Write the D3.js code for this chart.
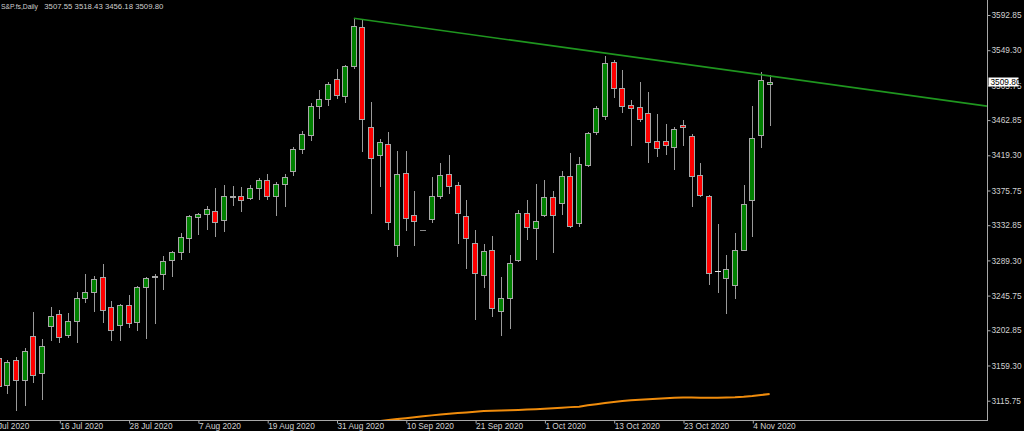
<!DOCTYPE html>
<html><head><meta charset="utf-8">
<script src="https://cdn.jsdelivr.net/npm/d3@7"></script>
<style>html,body{margin:0;padding:0;background:#000;overflow:hidden}</style>
</head><body><svg id="c" width="1024" height="431"></svg>
<script>
// ---------- data ----------
const symbolTitle = "S&P.fs,Daily";
const ohlcTitle = "3507.55 3518.43 3456.18 3509.80";
const firstBar = 1; // bar index of first value below
const opens  = [3169.0,3134.8,3165.8,3141.0,3196.2,3149.7,3207.8,3223.0,3197.4,3214.0,3242.5,3249.9,3268.4,3231.7,3209.4,3234.2,3213.5,3256.1,3270.4,3272.5,3289.5,3299.3,3316.7,3343.6,3346.3,3350.4,3339.7,3368.2,3369.4,3366.5,3379.2,3388.4,3368.6,3384.2,3400.3,3427.5,3444.8,3480.3,3489.0,3513.3,3493.0,3530.1,3578.4,3454.7,3419.3,3433.7,3308.7,3397.1,3345.1,3326.9,3340.9,3369.4,3395.8,3382.2,3344.2,3310.9,3271.3,3302.2,3227.1,3243.2,3289.8,3347.6,3329.0,3345.5,3367.7,3360.0,3393.7,3336.0,3407.0,3447.8,3467.6,3534.4,3502.2,3481.2,3479.1,3471.3,3437.0,3437.0,3429.6,3456.4,3442.8,3394.6,3369.4,3275.8,3267.9,3259.3,3302.2,3364.0,3444.1,3507.55];
const highs  = [3172.3,3166.1,3169.5,3180.6,3225.5,3191.7,3231.7,3227.6,3224.3,3249.9,3272.5,3270.4,3284.5,3238.7,3235.4,3246.5,3257.7,3269.2,3272.5,3294.4,3301.0,3322.8,3345.5,3348.0,3357.0,3379.2,3382.6,3381.7,3380.5,3382.6,3390.9,3396.2,3386.7,3396.2,3430.0,3449.0,3483.6,3500.1,3510.4,3525.7,3530.6,3587.9,3586.7,3485.2,3439.1,3447.8,3424.6,3424.6,3375.2,3327.3,3392.9,3409.8,3419.7,3386.7,3363.7,3326.6,3309.6,3319.9,3268.4,3296.4,3351.7,3364.0,3384.2,3388.8,3375.2,3399.9,3421.8,3417.6,3448.0,3480.3,3542.5,3537.2,3524.8,3487.4,3509.6,3497.2,3470.4,3458.4,3454.0,3463.0,3445.7,3409.8,3369.8,3334.0,3296.0,3323.6,3382.6,3480.7,3522.7,3518.43];
const lows   = [3131.5,3125.0,3104.3,3110.5,3139.3,3117.5,3190.9,3188.0,3194.2,3188.8,3238.2,3226.7,3213.1,3190.5,3190.9,3207.3,3203.2,3193.7,3211.5,3253.6,3270.4,3291.4,3300.1,3322.4,3328.5,3319.5,3326.1,3357.9,3350.4,3364.9,3365.3,3365.6,3345.5,3356.6,3395.0,3421.8,3438.2,3465.1,3481.5,3490.6,3485.2,3527.7,3425.0,3347.6,3381.4,3327.8,3295.1,3326.9,3308.7,3326.5,3336.8,3366.1,3373.1,3310.5,3280.3,3216.8,3256.1,3220.6,3197.1,3205.3,3289.0,3316.2,3290.7,3344.2,3300.1,3346.3,3331.0,3332.2,3406.0,3445.3,3464.6,3491.8,3473.3,3432.1,3461.4,3411.4,3418.8,3421.3,3402.7,3432.1,3356.2,3369.5,3260.5,3249.9,3224.3,3242.5,3302.0,3319.5,3429.2,3456.18];
const closes = [3134.4,3164.0,3141.4,3177.3,3147.2,3183.5,3220.2,3195.0,3214.0,3243.2,3249.9,3266.3,3228.0,3203.2,3233.8,3212.3,3256.4,3267.6,3268.4,3288.6,3299.3,3317.9,3343.9,3347.3,3352.5,3336.5,3369.4,3368.6,3363.7,3379.2,3388.4,3369.4,3383.8,3392.5,3427.5,3445.3,3480.3,3488.6,3507.1,3493.5,3529.8,3578.9,3463.9,3415.6,3435.4,3336.5,3395.8,3341.4,3337.7,3326.9,3369.0,3395.3,3381.4,3347.6,3316.7,3274.1,3301.3,3230.1,3242.5,3285.7,3347.6,3330.3,3338.4,3367.7,3345.5,3393.7,3332.2,3408.2,3446.9,3477.5,3533.5,3502.2,3479.9,3477.5,3464.6,3435.4,3428.0,3432.1,3451.5,3454.0,3394.1,3369.8,3273.7,3275.8,3278.3,3302.6,3359.1,3441.1,3512.5,3509.80];
// moving average (orange), starting at bar maStart
const maStart = 44;
const maValues = [3089.0,3090.5,3092.0,3093.0,3094.0,3095.2,3096.4,3097.6,3098.6,3099.5,3100.4,3101.3,3102.2,3102.9,3103.2,3103.6,3104.0,3104.3,3104.8,3105.3,3105.9,3106.5,3107.1,3107.8,3108.4,3110.0,3111.5,3112.8,3114.0,3115.3,3116.3,3117.0,3117.6,3118.2,3118.8,3119.3,3119.6,3119.6,3119.5,3119.4,3119.5,3119.7,3120.0,3120.6,3121.5,3122.8,3124.1];
// trendline anchors [bar, price]
const trendBars = [42, 90];
const trendPrices = [3588.8, 3517.45];
// axis ticks
const yTickValues = [3592.85,3549.30,3505.75,3462.85,3419.30,3375.75,3332.85,3289.30,3245.75,3202.85,3159.30,3115.75];
const xTickBars = [0,8,16,24,32,40,48,56,64,72,80,88];
const xTickLabels = ["6 Jul 2020","16 Jul 2020","28 Jul 2020","7 Aug 2020","19 Aug 2020","31 Aug 2020","10 Sep 2020","21 Sep 2020","1 Oct 2020","13 Oct 2020","23 Oct 2020","4 Nov 2020"];
const lastPrice = 3509.80;

// ---------- drawing ----------
const W = 1024, H = 431;
const plotRight = 987, plotBottom = 420;
const FONT = "'Liberation Sans', Arial, sans-serif";
const svg = d3.select('#c');
svg.append('rect').attr('width', W).attr('height', H).attr('fill', '#000');

const x = d3.scaleLinear().domain([8, 88]).range([59.3, 752.3]);
const y = d3.scaleLinear().domain([3115.75, 3592.85]).range([400.7, 15]);

svg.append('defs').append('clipPath').attr('id', 'plot')
  .append('rect').attr('x', 0).attr('y', 0).attr('width', plotRight).attr('height', plotBottom);
const g = svg.append('g').attr('clip-path', 'url(#plot)');

const bars = opens.map((o, i) => ({k: firstBar + i, o, h: highs[i], l: lows[i], c: closes[i]}));
const wickColor = '#9a9a9a';

// wicks
g.selectAll('line.wick').data(bars).join('line').attr('class', 'wick')
  .attr('x1', d => Math.round(x(d.k)) + 0.5).attr('x2', d => Math.round(x(d.k)) + 0.5)
  .attr('y1', d => Math.round(y(d.h))).attr('y2', d => Math.round(y(d.l)) + 1)
  .attr('stroke', wickColor).attr('stroke-width', 1);

// bodies
bars.forEach(d => {
  const cx = Math.round(x(d.k));
  const yt = Math.round(y(Math.max(d.o, d.c)));
  const yb = Math.round(y(Math.min(d.o, d.c)));
  const up = d.c >= d.o;
  if (yb - yt < 1) {
    g.append('line').attr('x1', cx - 3).attr('x2', cx + 3)
      .attr('y1', yt + 0.5).attr('y2', yt + 0.5)
      .attr('stroke', d.h - d.l > 5 ? '#e6e6e6' : '#8a8a8a').attr('stroke-width', 1);
  } else {
    g.append('rect').attr('x', cx - 2.5).attr('y', yt + 0.5)
      .attr('width', 5).attr('height', yb - yt)
      .attr('fill', up ? '#008000' : '#ff0000')
      .attr('stroke', '#a8a8a8').attr('stroke-width', 1);
  }
});

// moving average
const maData = maValues.map((v, i) => ({k: maStart + i, v}));
g.append('path').datum(maData)
  .attr('d', d3.line().x(d => x(d.k)).y(d => y(d.v)))
  .attr('fill', 'none').attr('stroke', '#f08c0c').attr('stroke-width', 2);

// trendline, extended to the right edge
const slope = (trendPrices[1] - trendPrices[0]) / (trendBars[1] - trendBars[0]);
const endBar = x.invert(plotRight);
const trendEnd = trendPrices[0] + slope * (endBar - trendBars[0]);
g.append('line')
  .attr('x1', x(trendBars[0])).attr('y1', y(trendPrices[0]))
  .attr('x2', x(endBar)).attr('y2', y(trendEnd))
  .attr('stroke', '#1f961f').attr('stroke-width', 1.6);

// frame
svg.append('line').attr('x1', plotRight + 0.5).attr('x2', plotRight + 0.5).attr('y1', 0).attr('y2', plotBottom + 1)
  .attr('stroke', '#a8a8a8');
svg.append('line').attr('x1', 0).attr('x2', plotRight + 1).attr('y1', plotBottom + 0.5).attr('y2', plotBottom + 0.5)
  .attr('stroke', '#a8a8a8');

// y axis
const yAxis = d3.axisRight(y).tickValues(yTickValues).tickFormat(d3.format('.2f')).tickSize(3).tickPadding(1);
const ya = svg.append('g').attr('transform', `translate(${plotRight + 0.5},0)`).call(yAxis);
ya.select('.domain').remove();
ya.selectAll('line').attr('stroke', '#a8a8a8');
ya.selectAll('text').attr('fill', '#d2d2d2').style('font-family', FONT).style('font-size', '8.3px');

// x axis
const xAxis = d3.axisBottom(x).tickValues(xTickBars).tickFormat((d, i) => xTickLabels[i]).tickSize(3).tickPadding(0);
const xa = svg.append('g').attr('transform', `translate(0.5,${plotBottom + 0.5})`).call(xAxis);
xa.select('.domain').remove();
xa.selectAll('line').attr('stroke', '#a8a8a8');
xa.selectAll('text').attr('fill', '#d2d2d2').attr('text-anchor', 'start')
  .style('font-family', FONT).style('font-size', '8.3px');

// last price box
const yl = y(lastPrice);
svg.append('rect').attr('x', plotRight + 1.5).attr('y', Math.round(yl) - 4.5).attr('width', 30).attr('height', 9)
  .attr('fill', '#fff');
svg.append('text').attr('x', plotRight + 3.5).attr('y', Math.round(yl) + 3.2).text(d3.format('.2f')(lastPrice))
  .attr('fill', '#000').style('font-family', FONT).style('font-size', '8.3px');

// title
svg.append('text').attr('x', 1).attr('y', 8.5).text(symbolTitle)
  .attr('textLength', 37).attr('lengthAdjust', 'spacingAndGlyphs')
  .attr('fill', '#cfcfcf').style('font-family', FONT).style('font-size', '8px');
svg.append('text').attr('x', 44.3).attr('y', 8.5).text(ohlcTitle)
  .attr('textLength', 119).attr('lengthAdjust', 'spacingAndGlyphs')
  .attr('fill', '#cfcfcf').style('font-family', FONT).style('font-size', '8px');
</script>
</body></html>
